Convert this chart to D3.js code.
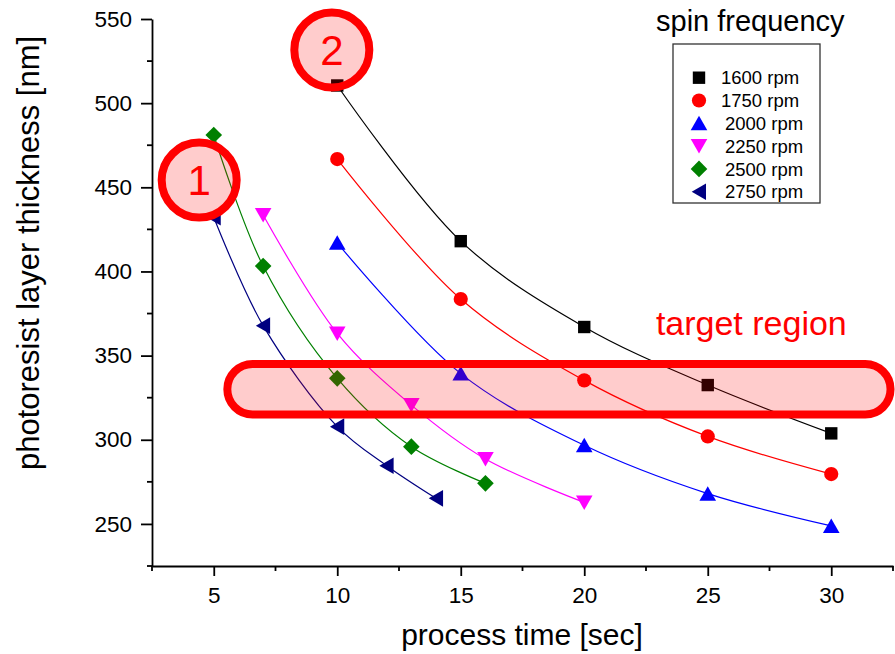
<!DOCTYPE html>
<html><head><meta charset="utf-8">
<script src="https://cdn.jsdelivr.net/npm/d3@7"></script>
<style>
html,body{margin:0;padding:0;background:#fff;}
svg{display:block;}
text{font-family:"Liberation Sans",Arial,sans-serif;}
</style></head>
<body>
<svg id="chart" width="895" height="654"></svg>
<script>
// ---- data ----
const seriesNames = ["1600 rpm","1750 rpm","2000 rpm","2250 rpm","2500 rpm","2750 rpm"];
const seriesColors = ["#000000","#ff0000","#0000ff","#ff00ff","#008000","#000080"];
const seriesSymbols = ["square","circle","triangleUp","triangleDown","diamond","triangleLeft"];
const times1600 = [10,15,20,25,30];
const thick1600 = [510.5,418,367,332.5,303.8];
const times1750 = [10,15,20,25,30];
const thick1750 = [466.8,383.6,335.3,302,279.6];
const times2000 = [10,15,20,25,30];
const thick2000 = [417,339.3,296.7,268,248.8];
const times2250 = [7,10,13,16,20];
const thick2250 = [433.5,363.2,320.6,288.6,262.8];
const times2500 = [5,7,10,13,16];
const thick2500 = [481.1,403.2,336.5,295.9,274.1];
const times2750 = [5,7,10,12,14];
const thick2750 = [432.2,367.8,307.8,284.6,265.2];
const xTicks = [5,10,15,20,25,30];
const xMinorTicks = [2.5,7.5,12.5,17.5,22.5,27.5,32.5];
const yTicks = [250,300,350,400,450,500,550];
const yMinorTicks = [225,275,325,375,425,475,525];
const xTitle = "process time [sec]";
const yTitle = "photoresist layer thickness [nm]";
const legendTitle = "spin frequency";
const targetLabel = "target region";
const targetBand = {x0:5.55, x1:32.4, y0:315, y1:345};
const markerCircles = [{label:"1", x:4.41, y:454.3},{label:"2", x:9.78, y:531.6}];
const targetLabelPos = {x:22.9, y:362.2};

const series = [
  {t:times1600, v:thick1600},{t:times1750, v:thick1750},{t:times2000, v:thick2000},
  {t:times2250, v:thick2250},{t:times2500, v:thick2500},{t:times2750, v:thick2750}
].map((s,i)=>({name:seriesNames[i], color:seriesColors[i], symbol:seriesSymbols[i],
  pts:s.t.map((t,j)=>({x:t, y:s.v[j]}))}));

// ---- layout ----
const svg = d3.select("#chart");
const x = d3.scaleLinear().domain([2.5,32.5]).range([152,893]);
const y = d3.scaleLinear().domain([225,550]).range([566,19]);

function symbolPath(type){
  switch(type){
    case "square": return "M-6.2,-6.2H6.2V6.2H-6.2Z";
    case "circle": return d3.arc()({innerRadius:0,outerRadius:7.1,startAngle:0,endAngle:2*Math.PI});
    case "triangleUp": return "M0,-7.5L8.3,7L-8.3,7Z";
    case "triangleDown": return "M0,7.5L8.3,-7L-8.3,-7Z";
    case "diamond": return "M0,-8.3L8.3,0L0,8.3L-8.3,0Z";
    case "triangleLeft": return "M-7.3,0L7,-8.3L7,8.3Z";
  }
}

// axes
const axisG = svg.append("g");
const xAxis = d3.axisBottom(x).tickValues(xTicks).tickSize(10).tickSizeOuter(0).tickPadding(11);
const gx = axisG.append("g").attr("transform","translate(0,566)").call(xAxis);
gx.append("g").selectAll("line").data(xMinorTicks).join("line")
  .attr("x1",d=>x(d)).attr("x2",d=>x(d)).attr("y1",0).attr("y2",5).attr("stroke","#000").attr("stroke-width",1.8);
const yAxis = d3.axisLeft(y).tickValues(yTicks).tickSize(11).tickSizeOuter(0).tickPadding(9);
const gy = axisG.append("g").attr("transform","translate(152,0)").call(yAxis);
gy.append("g").selectAll("line").data(yMinorTicks).join("line")
  .attr("y1",d=>y(d)).attr("y2",d=>y(d)).attr("x1",0).attr("x2",-5).attr("stroke","#000").attr("stroke-width",1.8);
[gx,gy].forEach(g=>{
  g.select(".domain").attr("stroke","#000").attr("stroke-width",1.8);
  g.selectAll(".tick line").attr("stroke","#000").attr("stroke-width",1.8);
  g.selectAll(".tick text").attr("font-size",22.5).attr("fill","#000").attr("font-family","Liberation Sans, Arial, sans-serif");
});

svg.append("text").attr("x",522).attr("y",645).attr("text-anchor","middle")
  .attr("font-size",30).text(xTitle);
svg.append("text").attr("transform","translate(39,253) rotate(-90)").attr("text-anchor","middle")
  .attr("font-size",31).text(yTitle);

// lines
const line = d3.line().x(d=>x(d.x)).y(d=>y(d.y)).curve(d3.curveCatmullRom.alpha(0.5));
const plot = svg.append("g");
plot.selectAll("path.ln").data(series).join("path").attr("class","ln")
  .attr("d",d=>line(d.pts)).attr("fill","none").attr("stroke",d=>d.color).attr("stroke-width",1.2);
series.forEach(s=>{
  plot.append("g").selectAll("path").data(s.pts).join("path")
    .attr("transform",d=>`translate(${x(d.x)},${y(d.y)})`)
    .attr("d",symbolPath(s.symbol)).attr("fill",s.color);
});

// annotations
const ann = svg.append("g");
const bx0 = x(targetBand.x0), bx1 = x(targetBand.x1), by0 = y(targetBand.y1), by1 = y(targetBand.y0);
ann.append("rect").attr("x",bx0).attr("y",by0).attr("width",bx1-bx0).attr("height",by1-by0)
  .attr("rx",(by1-by0)/2).attr("ry",(by1-by0)/2)
  .attr("fill","rgba(255,0,0,0.2)").attr("stroke","#ff0000").attr("stroke-width",8);
markerCircles.forEach(c=>{
  ann.append("circle").attr("cx",x(c.x)).attr("cy",y(c.y)).attr("r",37.5)
    .attr("fill","rgba(255,0,0,0.2)").attr("stroke","#ff0000").attr("stroke-width",8);
  ann.append("text").attr("x",x(c.x)).attr("y",y(c.y)).attr("dy","0.36em").attr("text-anchor","middle")
    .attr("font-family","Lato, sans-serif").attr("font-size",42).attr("fill","#ff0000").text(c.label);
});
ann.append("text").attr("x",x(targetLabelPos.x)).attr("y",y(targetLabelPos.y))
  .attr("font-family","Lato, sans-serif").attr("font-size",34).attr("fill","#ff0000").text(targetLabel);

// legend
const lg = svg.append("g");
lg.append("text").attr("x",656).attr("y",31).attr("font-size",29).text(legendTitle);
lg.append("rect").attr("x",673).attr("y",44).attr("width",147).attr("height",159)
  .attr("fill","#fff").attr("stroke","#333").attr("stroke-width",1.3);
series.forEach((s,i)=>{
  const cy = 77.7 + i*22.8;
  lg.append("path").attr("transform",`translate(699,${cy})`).attr("d",symbolPath(s.symbol)).attr("fill",s.color);
  lg.append("text").attr("x", i<2 ? 721 : 725).attr("y",cy).attr("dy","0.36em").attr("font-size",18.5).text(s.name);
});
</script>
</body></html>
